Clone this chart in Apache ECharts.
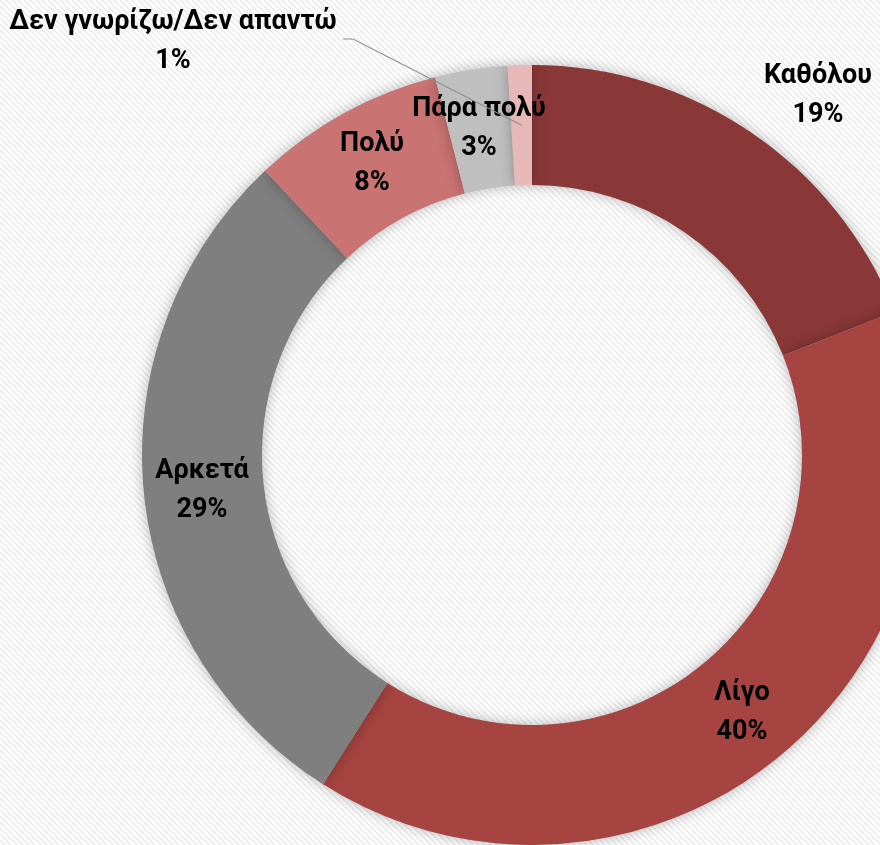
<!DOCTYPE html>
<html>
<head>
<meta charset="utf-8">
<script src="https://cdn.jsdelivr.net/npm/echarts@6/dist/echarts.min.js"></script>
<style>
  html, body { margin: 0; padding: 0; background: #fff; }
  #chart { width: 880px; height: 845px; }
</style>
</head>
<body>
<div id="chart"></div>
<script>
const categories = ['Καθόλου', 'Λίγο', 'Αρκετά', 'Πολύ', 'Πάρα πολύ', 'Δεν γνωρίζω/Δεν απαντώ']
const values = [19, 40, 29, 8, 3, 1]
const colors = ['#8a3837', '#a64441', '#7f7f7f', '#c97372', '#bfbfbf', '#e6b9b8']

const center = [532, 455]
const radius = [270, 390]

// where Excel put each label (centre of the two-line block)
const labelSpots = [[818, 96], [742, 713], [202, 491], [372, 164], [479, 129], [173, 42]]

// light diagonal hatch used as the chart background
function hatch() {
  const c = document.createElement('canvas')
  c.width = 6
  c.height = 6
  const ctx = c.getContext('2d')
  ctx.fillStyle = '#ffffff'
  ctx.fillRect(0, 0, 6, 6)
  ctx.strokeStyle = '#ececec'
  ctx.lineWidth = 1.6
  ctx.beginPath()
  ctx.moveTo(-1, -1); ctx.lineTo(7, 7)
  ctx.moveTo(-4, 2); ctx.lineTo(4, 10)
  ctx.moveTo(2, -4); ctx.lineTo(10, 4)
  ctx.stroke()
  return c
}

// leader line for the tiny last slice: from the middle of the slice to the end of its label
const last = categories.length - 1
const total = values.reduce((a, b) => a + b, 0)
const before = values.slice(0, last).reduce((a, b) => a + b, 0)
const midAngle = (before + values[last] / 2) / total * Math.PI * 2
const midR = (radius[0] + radius[1]) / 2
const anchor = [center[0] + midR * Math.sin(midAngle), center[1] - midR * Math.cos(midAngle)]

const chart = echarts.init(document.getElementById('chart'))

chart.setOption({
  backgroundColor: { image: hatch(), repeat: 'repeat' },
  animation: false,
  graphic: {
    elements: [{
      type: 'polyline',
      zlevel: 1,
      z: 100,
      silent: true,
      shape: { points: [anchor, [353, 39], [343, 39]] },
      style: { stroke: '#8f8f8f', lineWidth: 1.2, fill: null }
    }]
  },
  series: [{
    type: 'pie',
    center,
    radius,
    startAngle: 90,
    clockwise: true,
    silent: true,
    itemStyle: {
      shadowBlur: 14,
      shadowColor: 'rgba(0,0,0,0.28)'
    },
    label: {
      position: 'inside',
      formatter: '{b}\n{c}%',
      fontFamily: 'Roboto',
      fontWeight: 'bold',
      fontSize: 27,
      lineHeight: 39,
      color: '#000',
      align: 'center'
    },
    labelLine: { show: false },
    labelLayout: params => ({
      x: labelSpots[params.dataIndex][0],
      y: labelSpots[params.dataIndex][1],
      align: 'center',
      verticalAlign: 'middle'
    }),
    data: categories.map((name, i) => ({ name, value: values[i], itemStyle: { color: colors[i] } }))
  }]
})
</script>
</body>
</html>
